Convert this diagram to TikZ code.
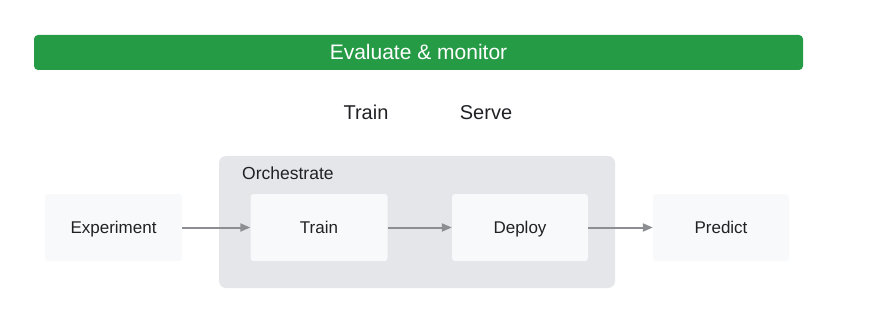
\documentclass[tikz,border=0pt]{standalone}
\usepackage{fontspec}
\setmainfont{Liberation Sans}
\usetikzlibrary{arrows.meta}
\definecolor{barGreen}{RGB}{38,155,70}
\definecolor{orchGray}{RGB}{229,230,233}
\definecolor{boxFill}{RGB}{248,249,250}
\definecolor{arrowGray}{RGB}{140,142,145}
\definecolor{textDark}{RGB}{32,33,36}
\begin{document}
\begin{tikzpicture}[x=1pt, y=-1pt,
  stage/.style={rectangle, rounded corners=3pt, fill=boxFill, text=textDark, minimum width=137pt, minimum height=67pt, inner sep=0pt, text height=12.2pt, text depth=0pt, font=\fontsize{17}{20}\selectfont},
  head/.style={text=textDark, inner sep=0pt, text height=14.3pt, text depth=0pt, font=\fontsize{20}{24}\selectfont},
  flow/.style={draw=arrowGray, line width=2pt, -{Triangle[length=10pt, width=8pt]}}]
  \useasboundingbox (0,0) rectangle (874,331);
  \node[rectangle, rounded corners=4pt, fill=barGreen, text=white, minimum width=769pt, minimum height=35pt, inner sep=0pt, text height=15pt, text depth=0pt, font=\fontsize{21}{24}\selectfont] (bar) at (418.5,52.5) {Evaluate \& monitor};
  \node[head] (trainhead) at (366,112) {Train};
  \node[head] (servehead) at (486,112) {Serve};
  \node[rectangle, rounded corners=7pt, fill=orchGray, minimum width=396pt, minimum height=132pt, inner sep=0pt] (orch) at (417,222) {};
  \node[anchor=west, text=textDark, inner sep=0pt, text height=12.5pt, text depth=0pt, font=\fontsize{17.5}{20}\selectfont] (orchlabel) at (242,173) {Orchestrate};
  \node[stage] (experiment) at (113.5,227.5) {Experiment};
  \node[stage] (train) at (319,227.5) {Train};
  \node[stage, minimum width=136pt] (deploy) at (520,227.5) {Deploy};
  \node[stage, minimum width=136pt] (predict) at (721,227.5) {Predict};
  \draw[flow] (experiment) -- (train);
  \draw[flow] (train) -- (deploy);
  \draw[flow] (deploy) -- (predict);
\end{tikzpicture}
\end{document}
